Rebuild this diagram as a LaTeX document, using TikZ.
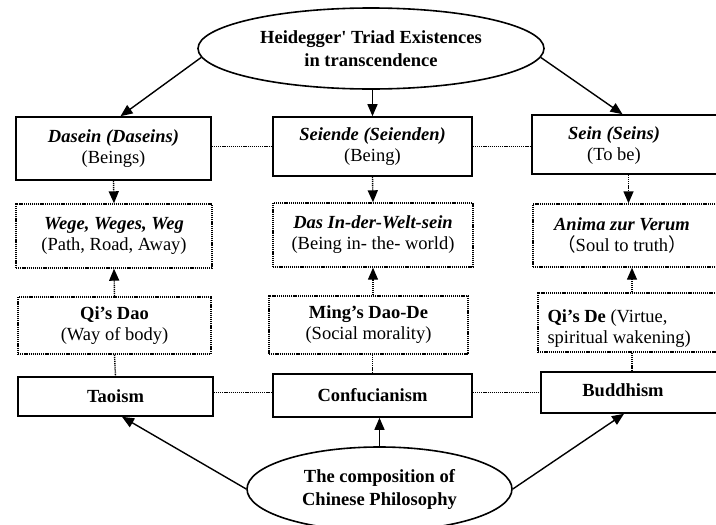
\documentclass[tikz,border=0pt]{standalone}
\usepackage{fontspec}
\setmainfont{Liberation Serif}
\newfontfamily\cjk{Noto Sans CJK SC}
\usepackage{tikz}
\usetikzlibrary{arrows.meta,positioning,shapes.geometric}
\tikzset{
  phbox/.style={draw=black, line width=1.6pt, inner sep=0pt, align=center},
  phdot/.style={draw=black, line width=1.4pt, dash pattern=on 1.2pt off 0.9pt, inner sep=0pt, align=center},
  phoval/.style={draw=black, ellipse, line width=1.6pt, inner sep=0pt, align=center, font=\fontsize{18.5}{23}\selectfont\bfseries},
  pharrow/.style={-{Triangle[length=12pt,width=10pt]}, line width=1.4pt},
  phdarrow/.style={-{Triangle[length=12pt,width=10pt]}, line width=1.4pt, dash pattern=on 1.2pt off 0.9pt},
  phlink/.style={line width=1.4pt, dash pattern=on 1.2pt off 0.9pt}
}

\begin{document}
\begin{tikzpicture}[x=1pt, y=-1pt, every node/.style={font=\fontsize{18.5}{21}\selectfont, align=center}]
  \useasboundingbox (0,0) rectangle (716,525);
  \clip (0,0) rectangle (716,525);

  \node[phoval, minimum width=346pt, minimum height=81pt] (heid) at (371,48.5) {Heidegger\textquotesingle{} Triad Existences\\in transcendence};

  % Heidegger row
  \node[phbox, minimum width=195pt, minimum height=63pt] (dasein) at (113.5,148.5) {\textbf{\textit{Dasein (Daseins)}}\\(Beings)};
  \node[phbox, minimum width=199pt, minimum height=59pt] (seiende) at (372.5,146.5) {\textbf{\textit{Seiende (Seienden)}}\\(Being)};
  \node[phbox, minimum width=193pt, minimum height=59pt] (sein) at (628.5,144.5) {};
  \node (seintxt) at (614,146) {\textbf{\textit{Sein (Seins)}}\\(To be)};

  \node[phdot, minimum width=196pt, minimum height=64pt] (wege) at (114,236) {\textbf{\textit{Wege, Weges, Weg}}\\(Path, Road, Away)};
  \node[phdot, minimum width=200pt, minimum height=64pt] (welt) at (373,235) {\textbf{\textit{Das In-der-Welt-sein}}\\(Being in- the- world)};
  \node[phdot, minimum width=196pt, minimum height=63pt] (anima) at (631,235.5) {};
  \node (animatxt) at (622,235) {\textbf{\textit{Anima zur Verum}}\\{\cjk （}Soul to truth{\cjk ）}};

  % Chinese row
  \node[phdot, minimum width=193pt, minimum height=57pt] (qidao) at (114.5,325.5) {\textbf{Qi’s Dao}\\(Way of body)};
  \node[phdot, minimum width=199pt, minimum height=58pt] (ming) at (368.5,325) {\textbf{Ming’s Dao-De}\\(Social morality)};
  \node[phdot, minimum width=188pt, minimum height=59pt] (qide) at (632,322.5) {};
  \node[anchor=west, align=left] (qidetxt) at (544,328.5) {\textbf{Qi’s De} (Virtue,\\spiritual wakening)};

  \node[phbox, minimum width=195pt, minimum height=39pt, font=\fontsize{18.5}{21}\selectfont\bfseries] (taoism) at (115.5,396.5) {Taoism};
  \node[phbox, minimum width=199pt, minimum height=43pt, font=\fontsize{18.5}{21}\selectfont\bfseries] (conf) at (372.5,395.5) {Confucianism};
  \node[phbox, minimum width=184pt, minimum height=41pt] (budd) at (633,392.5) {};
  \node[font=\fontsize{18.5}{21}\selectfont\bfseries] (buddtxt) at (623,390) {Buddhism};

  \node[phoval, minimum width=265pt, minimum height=84pt] (chin) at (379.5,489) {The composition of\\Chinese Philosophy};

  \draw[pharrow] (heid.183) -- ([xshift=7pt]dasein.north);
  \draw[pharrow] (heid.south -| seiende.north) -- (seiende.north);
  \draw[pharrow] (heid.-3) -- ([xshift=-6pt]sein.north);
  \draw[phlink] (seiende.west -| dasein.east) -- (seiende.west);
  \draw[phlink] (seiende.east) -- (seiende.east -| sein.west);

  \draw[phdarrow] (dasein.south) -- (wege.north);
  \draw[phdarrow] (seiende.south) -- (welt.north);
  \draw[phdarrow] (sein.south) -- (sein.south |- anima.north);
  \draw[phdarrow] (qidao.north) -- (wege.south);
  \draw[phdarrow] (welt.south |- ming.north) -- (welt.south);
  \draw[phdarrow] (qide.north) -- (qide.north |- anima.south);

  \draw[phlink] (qidao.south) -- (taoism.north);
  \draw[phlink] (conf.north |- ming.south) -- (conf.north);
  \draw[phlink] (qide.south) -- (qide.south |- budd.north);
  \draw[phlink] (taoism.east |- budd.west) -- (conf.west |- budd.west);
  \draw[phlink] (conf.east |- budd.west) -- (budd.west);

  \draw[pharrow] (chin.west) -- ([xshift=6.5pt]taoism.south);
  \draw[pharrow] (chin.north) -- (chin.north |- conf.south);
  \draw[pharrow] (chin.east) -- ([xshift=-9pt]budd.south);
\end{tikzpicture}
\end{document}
